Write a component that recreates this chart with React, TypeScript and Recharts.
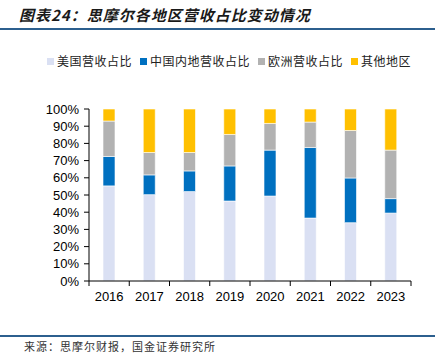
import React from 'react';
import { BarChart, Bar, XAxis, YAxis } from 'recharts';

const years = ['2016', '2017', '2018', '2019', '2020', '2021', '2022', '2023'];
const usShare = [55.3, 50.2, 52.0, 46.5, 49.4, 36.6, 33.9, 39.5];
const chinaShare = [17.1, 11.5, 12.0, 20.4, 26.7, 41.0, 26.0, 8.4];
const europeShare = [20.6, 13.0, 10.7, 18.3, 15.5, 14.8, 27.6, 28.2];
const otherShare = [7.0, 25.3, 25.3, 14.8, 8.4, 7.6, 12.5, 23.9];
const yTicks = [0, 10, 20, 30, 40, 50, 60, 70, 80, 90, 100];

const series = [
  { key: 'us', name: '美国营收占比', color: '#DAE0F3' },
  { key: 'china', name: '中国内地营收占比', color: '#0070C0' },
  { key: 'europe', name: '欧洲营收占比', color: '#B2B2B2' },
  { key: 'other', name: '其他地区', color: '#FFC000' },
];

const data = years.map((year, i) => ({
  year,
  us: usShare[i],
  china: chinaShare[i],
  europe: europeShare[i],
  other: otherShare[i],
}));

const tickFont = { fontFamily: '"Liberation Sans", Arial, sans-serif', fontSize: 13, fill: '#000' };
const cjk = '"Noto Sans CJK SC", "Noto Sans", sans-serif';

// year label plus the little tick marks sitting between categories
const YearTick = (props: any) => {
  const { x, y, payload, index, visibleTicksCount } = props;
  const half = payload && payload.offset ? payload.offset : 20;
  const axisY = y - 11;
  return (
    <g>
      <line x1={x - half} x2={x - half} y1={axisY} y2={axisY + 5} stroke="#000" />
      {index === visibleTicksCount - 1 && (
        <line x1={x + half} x2={x + half} y1={axisY} y2={axisY + 5} stroke="#000" />
      )}
      <text x={x} y={y} dy="0.71em" textAnchor="middle" {...tickFont}>
        {payload.value}
      </text>
    </g>
  );
};

export default function App() {
  return (
    <div
      style={{
        position: 'absolute',
        left: 0,
        top: 0,
        width: 435,
        height: 353,
        background: '#fff',
        overflow: 'hidden',
      }}
    >
      <div
        style={{
          position: 'absolute',
          left: 19,
          top: 4,
          fontFamily: cjk,
          fontSize: 15,
          fontWeight: 700,
          fontStyle: 'italic',
          letterSpacing: 1,
          color: '#1a1a1a',
          lineHeight: '22px',
          whiteSpace: 'nowrap',
        }}
      >
        图表24：思摩尔各地区营收占比变动情况
      </div>
      <div style={{ position: 'absolute', left: 0, top: 28, width: 435, height: 2, background: '#2C5F8E' }} />

      <div
        style={{
          position: 'absolute',
          left: 47,
          top: 52,
          display: 'flex',
          alignItems: 'center',
          fontFamily: cjk,
          fontSize: 12,
          letterSpacing: 0.5,
          color: '#222',
          lineHeight: '18px',
          whiteSpace: 'nowrap',
        }}
      >
        {series.map((s, i) => (
          <div key={s.key} style={{ display: 'flex', alignItems: 'center', marginRight: i < series.length - 1 ? 8 : 0 }}>
            <span style={{ width: 7, height: 7, background: s.color, marginRight: 3, display: 'inline-block' }} />
            <span>{s.name}</span>
          </div>
        ))}
      </div>

      <div style={{ position: 'absolute', left: 0, top: 0 }}>
        <BarChart
          width={435}
          height={353}
          data={data}
          margin={{ top: 109, right: 24, bottom: 42, left: 0 }}
          barSize={12}
        >
          <XAxis
            dataKey="year"
            axisLine={{ stroke: '#000' }}
            tickLine={false}
            tickSize={0}
            tickMargin={11}
            height={30}
            interval={0}
            tick={<YearTick />}
          />
          <YAxis
            width={89}
            domain={[0, 100]}
            ticks={yTicks}
            interval={0}
            tickFormatter={(v: number) => `${v}%`}
            axisLine={{ stroke: '#000' }}
            tickLine={{ stroke: '#000' }}
            tickSize={5}
            tickMargin={5}
            tick={tickFont}
          />
          {series.map((s) => (
            <Bar
              key={s.key}
              dataKey={s.key}
              name={s.name}
              stackId="share"
              fill={s.color}
              stroke="#fff"
              strokeWidth={0.6}
              isAnimationActive={false}
            />
          ))}
        </BarChart>
      </div>

      <div style={{ position: 'absolute', left: 0, top: 335, width: 435, height: 2, background: '#2C5F8E' }} />
      <div
        style={{
          position: 'absolute',
          left: 24,
          top: 339,
          fontFamily: cjk,
          fontSize: 11,
          letterSpacing: 1,
          color: '#333',
          lineHeight: '14px',
          whiteSpace: 'nowrap',
        }}
      >
        来源：思摩尔财报，国金证券研究所
      </div>
    </div>
  );
}
